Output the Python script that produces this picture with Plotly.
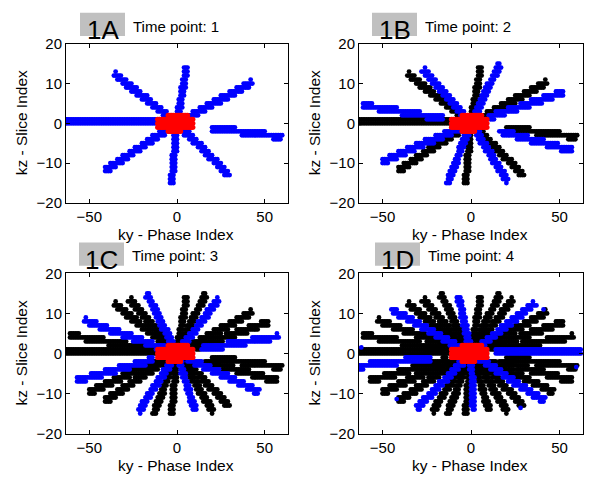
import numpy as np
import plotly.graph_objects as go

# ---------------- data ----------------
time_points = [1, 2, 3, 4]
panel_labels = ["1A", "1B", "1C", "1D"]

# outer end (ky, kz) of every spoke acquired at each time point, and where it starts (fraction of radius)
tp1_end_ky = [-63.0, -35.2, 5.5, 42.4, 59.5, 29.2, -3.0, -40.9]
tp1_end_kz = [0.7, 12.2, 14.1, 10.2, -3.4, -12.8, -15.0, -11.9]
tp1_start = [0.0, 0.0, 0.0, 0.0, 0.34, 0.0, 0.0, 0.0]

tp2_end_ky = [-60.8, -27.0, 15.9, 51.9, 56.6, 20.6, -12.9, -49.8]
tp2_end_kz = [4.5, 13.4, 14.6, 7.7, -6.8, -14.5, -14.9, -9.6]
tp2_start = [0.26, 0.0, 0.0, 0.2, 0.28, 0.0, 0.0, 0.0]

tp3_end_ky = [-56.6, -52.8, -16.9, 23.5, 57.6, 46.2, 10.2, -21.6]
tp3_end_kz = [-6.7, 8.2, 14.6, 13.4, 4.2, -9.5, -14.3, -14.3]
tp3_start = [0.25, 0.0, 0.0, 0.0, 0.24, 0.0, 0.0, 0.0]

tp4_end_ky = [-63.0, -45.0, -7.0, 36.0, 62.0, 41.0, 1.5, -30.0]
tp4_end_kz = [-3.2, 11.0, 14.2, 12.5, 0.6, -11.8, -14.0, -13.5]
tp4_start = [0.37, 0.0, 0.0, 0.0, 0.23, 0.0, 0.0, 0.0]

# isolated blue samples seen at time point 4
tp4_extra_ky = [59.5, -62.0, 41.0, -42.0, 28.0]
tp4_extra_kz = [-3.4, 1.5, 11.0, -11.4, -13.6]

# fully sampled centre (red): rows of kz with ky extent
red_kz = [2, 1, 0, -1, -2]
red_ky_lo = [-5, -11, -11, -11, -5]
red_ky_hi = [6, 9, 9, 9, 2]

x_ticks = [-50, 0, 50]
y_ticks = [-20, -10, 0, 10, 20]

spokes = {
    1: (tp1_end_ky, tp1_end_kz, tp1_start),
    2: (tp2_end_ky, tp2_end_kz, tp2_start),
    3: (tp3_end_ky, tp3_end_kz, tp3_start),
    4: (tp4_end_ky, tp4_end_kz, tp4_start),
}

# ---------------- layout helpers ----------------
W, H = 592, 483
SX, SZ = 1.757, 4.125  # px per ky / kz unit (used for spoke band thickness)


def spoke_points(ey, ez, r0):
    dx, dz = ey * SX, ez * SZ
    L = np.hypot(dx, dz)
    n = int(L) + 2
    t = np.linspace(r0, 1.0, n)
    px, pz = -dz / L, dx / L
    kys, kzs = [], []
    for w in (-1.6, 0.0, 1.6):
        kys.append(np.round(t * ey + w * px / SX))
        kzs.append(np.round(t * ez + w * pz / SZ))
    pts = np.unique(np.stack([np.concatenate(kys), np.concatenate(kzs)], 1), axis=0)
    return pts[:, 0], pts[:, 1]


def tp_points(tp):
    ky_all, kz_all = [], []
    eys, ezs, r0s = spokes[tp]
    for ey, ez, r0 in zip(eys, ezs, r0s):
        a, b = spoke_points(ey, ez, r0)
        ky_all.append(a)
        kz_all.append(b)
    return np.concatenate(ky_all), np.concatenate(kz_all)


red_ky, red_kzs = [], []
for kz, lo, hi in zip(red_kz, red_ky_lo, red_ky_hi):
    for ky in range(lo, hi + 1):
        red_ky.append(ky)
        red_kzs.append(kz)

# panel boxes in pixels (left, right, top, bottom)
boxes = [(66, 288, 36, 201), (359, 583, 36, 201),
         (66, 288, 274, 440), (359, 583, 274, 440)]
label_boxes = [(80, 125, 4, 28), (372, 417, 4, 28),
               (79, 124, 242, 266), (375, 420, 242, 266)]

fig = go.Figure()
FONT = "Liberation Sans, Arial, sans-serif"
MS = 4.8

for i, tp in enumerate(time_points):
    ax = "" if i == 0 else str(i + 1)
    xref, yref = "x" + ax, "y" + ax
    # spokes from earlier time points (black)
    bky, bkz = [], []
    for prev in time_points:
        if prev < tp:
            a, b = tp_points(prev)
            bky.append(a)
            bkz.append(b)
    if bky:
        fig.add_trace(go.Scatter(x=np.concatenate(bky), y=np.concatenate(bkz), mode="markers",
                                 marker=dict(color="black", size=MS), xaxis=xref, yaxis=yref,
                                 showlegend=False, hoverinfo="skip"))
    # spokes of the current time point (blue)
    cky, ckz = tp_points(tp)
    if tp == 4:
        cky = np.concatenate([cky, tp4_extra_ky])
        ckz = np.concatenate([ckz, tp4_extra_kz])
    fig.add_trace(go.Scatter(x=cky, y=ckz, mode="markers",
                             marker=dict(color="#0000ff", size=MS), xaxis=xref, yaxis=yref,
                             showlegend=False, hoverinfo="skip"))
    # fully sampled centre (red)
    fig.add_trace(go.Scatter(x=red_ky, y=red_kzs, mode="markers",
                             marker=dict(color="#ff0000", size=MS + 0.5), xaxis=xref, yaxis=yref,
                             showlegend=False, hoverinfo="skip"))

    l, r, t, b = boxes[i]
    axis_common = dict(showline=True, linecolor="black", linewidth=1, mirror="ticks",
                       ticks="inside", ticklen=4, tickcolor="black", showgrid=False,
                       zeroline=False, tickfont=dict(family=FONT, size=15, color="black"))
    fig.layout["xaxis" + ax] = dict(domain=[l / W, r / W], range=[-63.3, 63.3],
                                    tickvals=x_ticks, anchor=yref, **axis_common)
    fig.layout["yaxis" + ax] = dict(domain=[1 - b / H, 1 - t / H], range=[-20, 20],
                                    tickvals=y_ticks, anchor=xref, **axis_common)

    fig.add_annotation(text="ky - Phase Index", x=((l + r) / 2 - 1) / W, y=1 - (b + 33) / H,
                       xref="paper", yref="paper", showarrow=False,
                       font=dict(family=FONT, size=15.5, color="black"),
                       xanchor="center", yanchor="middle")
    fig.add_annotation(text="kz - Slice Index", x=(l - 45) / W, y=1 - ((t + b) / 2) / H,
                       xref="paper", yref="paper", showarrow=False, textangle=-90,
                       font=dict(family=FONT, size=15.5, color="black"),
                       xanchor="center", yanchor="middle")
    bl, br, bt, bb = label_boxes[i]
    fig.add_shape(type="rect", xref="paper", yref="paper",
                  x0=bl / W, x1=br / W, y0=1 - bb / H, y1=1 - bt / H,
                  fillcolor="#c0c0c0", line=dict(width=0), layer="below")
    fig.add_annotation(text=panel_labels[i], x=((bl + br) / 2) / W, y=1 - (bb - 6) / H,
                       xref="paper", yref="paper", showarrow=False,
                       font=dict(family=FONT, size=26, color="black"),
                       xanchor="center", yanchor="middle")
    fig.add_annotation(text="Time point: %d" % tp, x=(br + 6) / W, y=1 - (bb - 10) / H,
                       xref="paper", yref="paper", showarrow=False,
                       font=dict(family=FONT, size=15, color="black"),
                       xanchor="left", yanchor="middle")

fig.update_layout(width=W, height=H, margin=dict(l=0, r=0, t=0, b=0),
                  paper_bgcolor="white", plot_bgcolor="white")
post = "document.body.style.margin='0';document.documentElement.style.overflow='hidden';"
fig.write_html("out.html", config={"displayModeBar": False}, post_script=post)
